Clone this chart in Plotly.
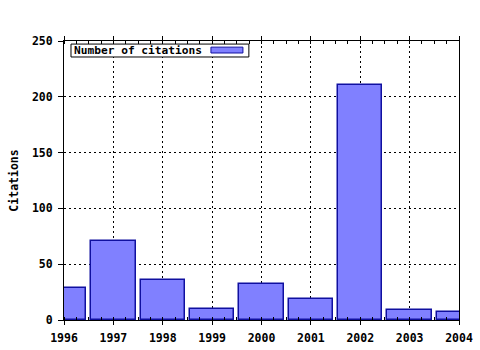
import plotly.graph_objects as go

years = [1996, 1997, 1998, 1999, 2000, 2001, 2002, 2003, 2004]
citations = [29, 71, 36, 10, 32, 18.5, 211, 9, 7]
series_name = "Number of citations"
y_title = "Citations"

FONT = dict(family="DejaVu Sans Mono", size=11.5, color="black", weight="bold")
LEG_FONT = dict(family="DejaVu Sans Mono", size=11.2, color="black", weight="bold")

fig = go.Figure()
fig.add_trace(go.Bar(
    x=years, y=citations, name=series_name, width=0.9,
    marker=dict(color="#8080ff", line=dict(color="#1010a0", width=1.5)),
    showlegend=False,
))

fig.update_layout(
    width=480, height=350,
    margin=dict(l=64, r=21, t=41, b=30, autoexpand=False),
    paper_bgcolor="white", plot_bgcolor="white",
    font=FONT,
    bargap=0,
)
fig.update_xaxes(
    range=[1996, 2004], tickmode="array", tickvals=years,
    ticktext=[str(y) for y in years],
    showline=True, linecolor="black", linewidth=1, mirror="allticks",
    ticks="outside", ticklen=4, tickcolor="black",
    showgrid=True, gridcolor="black", gridwidth=1, griddash="2px,3px",
    minor=dict(dtick=0.25, ticks="inside", ticklen=3, tickcolor="black", showgrid=False),
    zeroline=False, tickfont=FONT, automargin=False, ticklabelstandoff=3,
)
fig.update_yaxes(
    range=[0, 250], dtick=50,
    showline=True, linecolor="black", linewidth=1, mirror=True,
    ticks="outside", ticklen=5, tickcolor="black",
    showgrid=True, gridcolor="black", gridwidth=1, griddash="2px,3px",
    zeroline=False, tickfont=FONT, automargin=False, ticklabelstandoff=3,
    title=dict(text=y_title, font=FONT, standoff=10),
)

# legend box (swatch on the right of the label, as in the original)
fig.add_shape(type="rect", xref="paper", yref="paper",
              x0=0.0177, x1=0.468, y0=0.9427, y1=0.989,
              line=dict(color="black", width=1), fillcolor="white", layer="above")
fig.add_shape(type="rect", xref="paper", yref="paper",
              x0=0.372, x1=0.453, y0=0.957, y1=0.978,
              line=dict(color="#1010a0", width=1), fillcolor="#8080ff", layer="above")
fig.add_annotation(xref="paper", yref="paper", x=0.0203, y=0.966,
                   xanchor="left", yanchor="middle", showarrow=False,
                   text=series_name, font=LEG_FONT)

fig.write_html("out.html")
